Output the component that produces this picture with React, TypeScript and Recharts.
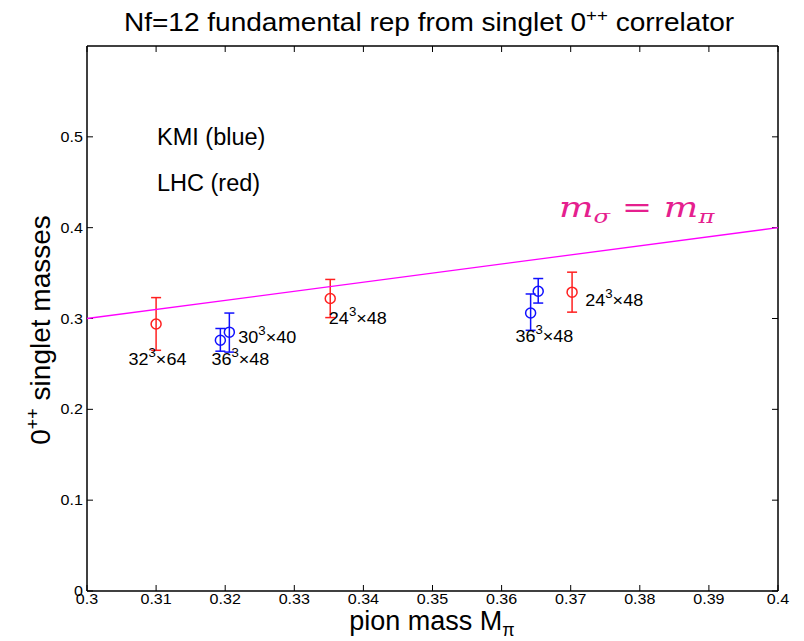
import React from "react";
import { ScatterChart, Scatter, XAxis, YAxis, ErrorBar, ReferenceLine } from "recharts";

const xTicks = [0.3, 0.31, 0.32, 0.33, 0.34, 0.35, 0.36, 0.37, 0.38, 0.39, 0.4];
const yTicks = [0, 0.1, 0.2, 0.3, 0.4, 0.5];
const xMax = 0.4;
const yMax = 0.6;

// KMI points (blue)
const kmiX = [0.3193, 0.3206, 0.3642, 0.3653];
const kmiY = [0.276, 0.285, 0.306, 0.33];
const kmiLo = [0.264, 0.263, 0.287, 0.317];
const kmiHi = [0.289, 0.306, 0.327, 0.344];

// LHC points (red)
const lhcX = [0.31, 0.3352, 0.3702];
const lhcY = [0.294, 0.322, 0.329];
const lhcLo = [0.265, 0.301, 0.307];
const lhcHi = [0.323, 0.343, 0.351];

// m_sigma = m_pi line
const diagX = [0.3, 0.4];
const diagY = [0.3, 0.4];

// lattice volume annotations (data coords of text start)
const volBase = ["32", "36", "30", "24", "36", "24"];
const volTime = ["64", "48", "40", "48", "48", "48"];
const volX = [0.306, 0.318, 0.3219, 0.335, 0.362, 0.3721];
const volY = [0.249, 0.249, 0.2735, 0.2937, 0.2746, 0.3138];

const BLUE = "#1010ff";
const RED = "#ff2020";
const FONT = "'Liberation Sans', Arial, Helvetica, sans-serif";

const kmiData = kmiX.map((x, i) => ({ x, y: kmiY[i], err: [kmiY[i] - kmiLo[i], kmiHi[i] - kmiY[i]] }));
const lhcData = lhcX.map((x, i) => ({ x, y: lhcY[i], err: [lhcY[i] - lhcLo[i], lhcHi[i] - lhcY[i]] }));
const diagData = diagX.map((x, i) => ({ x, y: diagY[i] }));
const volData = volX.map((x, i) => ({ x, y: volY[i], base: volBase[i], time: volTime[i] }));

const ring = (color: string) => (p: any) => (
  <circle cx={p.cx} cy={p.cy} r={5} fill="none" stroke={color} strokeWidth={1.5} />
);

const volLabel = (p: any) => (
  <text
    transform={`translate(${p.cx},${p.cy}) scale(1.06,1)`}
    fontSize={17}
    fontFamily={FONT}
    fill="#000"
  >
    {p.payload.base}
    <tspan fontSize={12.5} dy={-8}>3</tspan>
    <tspan dy={8}>×{p.payload.time}</tspan>
  </text>
);

const noTick = () => <g />;

const xTickLabel = (p: any) => (
  <text
    transform={`translate(${p.x},${p.y}) scale(1.15,1)`}
    textAnchor="middle"
    dy="0.71em"
    fontSize={14}
    fontFamily={FONT}
    fill="#000"
  >
    {p.payload.value}
  </text>
);

const yTickLabel = (p: any) => (
  <text
    transform={`translate(${p.x},${p.y}) scale(1.15,1)`}
    textAnchor="end"
    dy="0.36em"
    fontSize={14}
    fontFamily={FONT}
    fill="#000"
  >
    {p.payload.value}
  </text>
);

// mirrored inward ticks on the top and right box edges
const topTick = (p: any) => {
  const y = Math.min(p.y1, p.y2);
  return <line x1={p.x1} x2={p.x1} y1={y} y2={y + 6} stroke="#000" strokeWidth={1} />;
};
const rightTick = (p: any) => {
  const x = Math.max(p.x1, p.x2);
  return <line x1={x - 6} x2={x} y1={p.y1} y2={p.y1} stroke="#000" strokeWidth={1} />;
};

export default function App() {
  return (
    <div style={{ position: "absolute", left: 0, top: 0, width: 804, height: 641, background: "#fff" }}>
      <ScatterChart
        width={804}
        height={641}
        margin={{ top: 46, right: 26, left: 27, bottom: 20 }}
      >
        <XAxis
          type="number"
          dataKey="x"
          domain={[0.3, xMax]}
          ticks={xTicks}
          interval={0}
          allowDataOverflow
          height={30}
          tickSize={-6}
          tickMargin={9}
          axisLine={{ stroke: "#000", strokeWidth: 1.5 }}
          tickLine={{ stroke: "#000" }}
          tick={xTickLabel}
        />
        <YAxis
          type="number"
          dataKey="y"
          domain={[0, yMax]}
          ticks={yTicks}
          interval={0}
          allowDataOverflow
          width={60}
          tickSize={-6}
          tickMargin={10}
          axisLine={{ stroke: "#000", strokeWidth: 1.5 }}
          tickLine={{ stroke: "#000" }}
          tick={yTickLabel}
        />
        <ReferenceLine y={yMax} stroke="#000" strokeWidth={1.5} />
        <ReferenceLine x={xMax} stroke="#000" strokeWidth={1.5} />
        {xTicks.map((t) => (
          <ReferenceLine key={"tx" + t} x={t} shape={topTick} />
        ))}
        {yTicks.map((t) => (
          <ReferenceLine key={"ty" + t} y={t} shape={rightTick} />
        ))}
        <Scatter
          data={diagData}
          line={{ stroke: "#ff00ff", strokeWidth: 1.3 }}
          shape={noTick}
          isAnimationActive={false}
        />
        <Scatter data={lhcData} shape={ring(RED)} isAnimationActive={false}>
          <ErrorBar dataKey="err" direction="y" width={5} stroke={RED} strokeWidth={1.5} />
        </Scatter>
        <Scatter data={kmiData} shape={ring(BLUE)} isAnimationActive={false}>
          <ErrorBar dataKey="err" direction="y" width={5} stroke={BLUE} strokeWidth={1.5} />
        </Scatter>
        <Scatter data={volData} shape={volLabel} isAnimationActive={false} />
      </ScatterChart>
      <svg
        width={804}
        height={641}
        style={{ position: "absolute", left: 0, top: 0, pointerEvents: "none" }}
      >
        <text
          transform="translate(429,31) scale(1.1,1)"
          textAnchor="middle"
          fontSize={25.5}
          fontFamily={FONT}
          fill="#000"
        >
          Nf=12 fundamental rep from singlet 0
          <tspan fontSize={17} dy={-10}>++</tspan>
          <tspan dy={10}> correlator</tspan>
        </text>
        <text x={432} y={630} textAnchor="middle" fontSize={27} fontFamily={FONT} fill="#000">
          pion mass M
          <tspan fontSize={18} dy={6}>π</tspan>
        </text>
        <text
          transform="translate(50,330) rotate(-90)"
          textAnchor="middle"
          fontSize={28}
          fontFamily={FONT}
          fill="#000"
        >
          0<tspan fontSize={18} dy={-11}>++</tspan>
          <tspan dy={11}> singlet masses</tspan>
        </text>
        <text x={157} y={145} fontSize={23.5} fontFamily={FONT} fill="#000">
          KMI (blue)
        </text>
        <text x={157} y={191} fontSize={23.5} fontFamily={FONT} fill="#000">
          LHC (red)
        </text>
        <text
          transform="translate(559,217) scale(1.35,1)"
          fontSize={27}
          fontFamily="'DejaVu Serif', serif"
          fill="#e5208e"
        >
          <tspan fontStyle="italic">m</tspan>
          <tspan fontSize={18} dy={6} fontStyle="italic">σ</tspan>
          <tspan dy={-6}> = </tspan>
          <tspan fontStyle="italic">m</tspan>
          <tspan fontSize={18} dy={6} fontStyle="italic">π</tspan>
        </text>
      </svg>
    </div>
  );
}
